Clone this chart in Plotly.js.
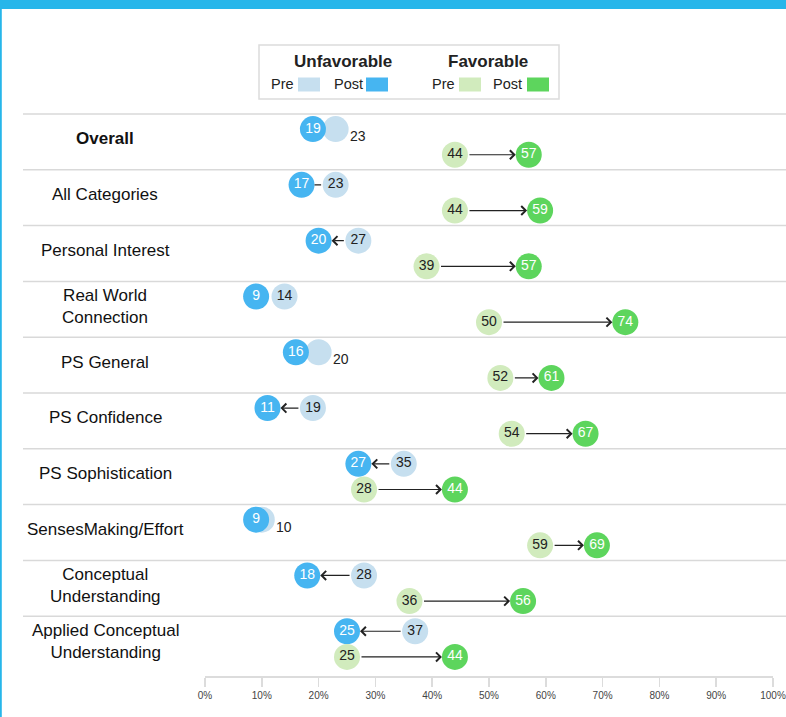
<!DOCTYPE html>
<html>
<head>
<meta charset="utf-8">
<script src="https://cdn.plot.ly/plotly-3.0.1.min.js"></script>
<style>
html,body{margin:0;padding:0;background:#fff;}
#chart{width:786px;height:717px;}
</style>
</head>
<body>
<div id="chart"></div>
<script>
// ---- data ----
const categories = ["Overall", "All Categories", "Personal Interest", "Real World<br>Connection", "PS General", "PS Confidence", "PS Sophistication", "SensesMaking/Effort", "Conceptual<br>Understanding", "Applied Conceptual<br>Understanding"];
const unfavPre  = [23, 23, 27, 14, 20, 19, 35, 10, 28, 37];
const unfavPost = [19, 17, 20,  9, 16, 11, 27,  9, 18, 25];
const favPre    = [44, 44, 39, 50, 52, 54, 28, 59, 36, 25];
const favPost   = [57, 59, 57, 74, 61, 67, 44, 69, 56, 44];
const tickVals  = [0, 10, 20, 30, 40, 50, 60, 70, 80, 90, 100];
const tickText  = ["0%", "10%", "20%", "30%", "40%", "50%", "60%", "70%", "80%", "90%", "100%"];
const legendGroups = ["Unfavorable", "Favorable"];
const legendItems = ["Pre", "Post"];

// ---- styles ----
const FONT = "Liberation Sans, Arial, Helvetica, sans-serif";
const C_UPRE = "#c6dfef", C_UPOST = "#46b5f1", C_FPRE = "#d1ebbd", C_FPOST = "#5dd55d";
const C_BAR = "#27b6ea";
const W = 786, H = 717;
const M = {l: 205, r: 13, t: 114, b: 41};
const YMAX = 10.072;
const UOFF = 0.27, FOFF = 0.73;
const plotW = W - M.l - M.r, plotH = H - M.t - M.b;
const px = x => (x - M.l) / plotW;          // pixel -> paper x
const py = y => (H - M.b - y) / plotH;      // pixel -> paper y

const rows = categories.map((c, i) => i);
const uY = rows.map(i => i + UOFF);
const fY = rows.map(i => i + FOFF);
const overlap = rows.map(i => Math.abs(unfavPre[i] - unfavPost[i]) < 5);

function markerTrace(xs, ys, color, txtColor, texts) {
  return {
    type: "scatter", mode: "markers+text", x: xs, y: ys,
    marker: {size: 26, color: color, line: {width: 0}, opacity: 1},
    text: texts, textposition: "middle center",
    textfont: {family: FONT, size: 14, color: txtColor},
    hoverinfo: "skip", cliponaxis: false
  };
}

const data = [
  markerTrace(unfavPre, uY, C_UPRE, "#222", unfavPre.map((v, i) => overlap[i] ? "" : String(v))),
  markerTrace(unfavPost, uY, C_UPOST, "#ffffff", unfavPost.map(String)),
  markerTrace(favPre, fY, C_FPRE, "#222", favPre.map(String)),
  markerTrace(favPost, fY, C_FPOST, "#ffffff", favPost.map(String))
];

const annotations = [];
const shapes = [];

// arrows
function addArrow(pre, post, y) {
  const d = Math.abs(post - pre);
  if (d < 6) return;
  annotations.push({
    x: post, y: y, ax: pre, ay: y, xref: "x", yref: "y", axref: "x", ayref: "y",
    text: "", showarrow: true, arrowhead: d >= 7 ? 4 : 0, arrowsize: 1.45, arrowwidth: 1.2,
    arrowcolor: "#222", standoff: 13, startstandoff: 13
  });
}
rows.forEach(i => {
  addArrow(unfavPre[i], unfavPost[i], uY[i]);
  addArrow(favPre[i], favPost[i], fY[i]);
  if (overlap[i]) {
    annotations.push({
      x: unfavPre[i], y: uY[i], xref: "x", yref: "y", text: String(unfavPre[i]),
      showarrow: false, xanchor: "left", yanchor: "middle", xshift: 12, yshift: -7,
      font: {family: FONT, size: 14, color: "#222"}
    });
  }
  // category label
  annotations.push({
    x: px(105), xref: "paper", y: i + 0.5, yref: "y", yshift: 3,
    text: i === 0 ? "<b>" + categories[i] + "</b>" : categories[i],
    showarrow: false, xanchor: "center", yanchor: "middle", align: "center",
    font: {family: FONT, size: 17, color: "#111"}
  });
  // separator
  shapes.push({
    type: "line", xref: "paper", yref: "paper",
    x0: px(23), x1: px(790), y0: 1 - i / YMAX, y1: 1 - i / YMAX,
    line: {color: "#d9d9d9", width: 1.5}
  });
});

// frame decoration
shapes.push({type: "rect", xref: "paper", yref: "paper", x0: px(-5), x1: px(795), y0: py(9), y1: py(-5),
  fillcolor: C_BAR, line: {width: 0}});
shapes.push({type: "rect", xref: "paper", yref: "paper", x0: px(-5), x1: px(1.8), y0: py(722), y1: py(9),
  fillcolor: C_BAR, line: {width: 0}});

// legend box
shapes.push({type: "rect", xref: "paper", yref: "paper", x0: px(259), x1: px(559), y0: py(99), y1: py(45),
  fillcolor: "#ffffff", line: {color: "#dcdcdc", width: 1.5}});
const groupCenters = [342.5, 488];
const groupColors = [[C_UPRE, C_UPOST], [C_FPRE, C_FPOST]];
const itemTextLeft = [[270, 333], [431, 492]];
const swatchLeft = [[298, 366], [459, 527]];
legendGroups.forEach((g, gi) => {
  annotations.push({x: px(groupCenters[gi]), y: py(61.5), xref: "paper", yref: "paper",
    text: "<b>" + g + "</b>", showarrow: false, xanchor: "center", yanchor: "middle",
    font: {family: FONT, size: 17, color: "#222"}});
  legendItems.forEach((it, ii) => {
    annotations.push({x: px(itemTextLeft[gi][ii] - 1), y: py(84), xref: "paper", yref: "paper",
      text: it, showarrow: false, xanchor: "left", yanchor: "middle",
      font: {family: FONT, size: 14.5, color: "#222"}});
    shapes.push({type: "rect", xref: "paper", yref: "paper",
      x0: px(swatchLeft[gi][ii]), x1: px(swatchLeft[gi][ii] + 22), y0: py(91.5), y1: py(77.5),
      fillcolor: groupColors[gi][ii], line: {width: 0}});
  });
});

const layout = {
  width: W, height: H, margin: M,
  paper_bgcolor: "#ffffff", plot_bgcolor: "#ffffff",
  showlegend: false,
  font: {family: FONT},
  xaxis: {
    range: [0, 100], tickvals: tickVals, ticktext: tickText,
    showgrid: false, zeroline: false, showline: true, linecolor: "#dcdcdc", linewidth: 1.5,
    ticks: "outside", ticklen: 9, tickcolor: "#dcdcdc", tickwidth: 1.5,
    tickfont: {family: FONT, size: 10, color: "#444"}, fixedrange: true
  },
  yaxis: {range: [YMAX, 0], visible: false, showgrid: false, zeroline: false, fixedrange: true},
  shapes: shapes,
  annotations: annotations
};

Plotly.newPlot("chart", data, layout, {displayModeBar: false, staticPlot: true});
</script>
</body>
</html>
